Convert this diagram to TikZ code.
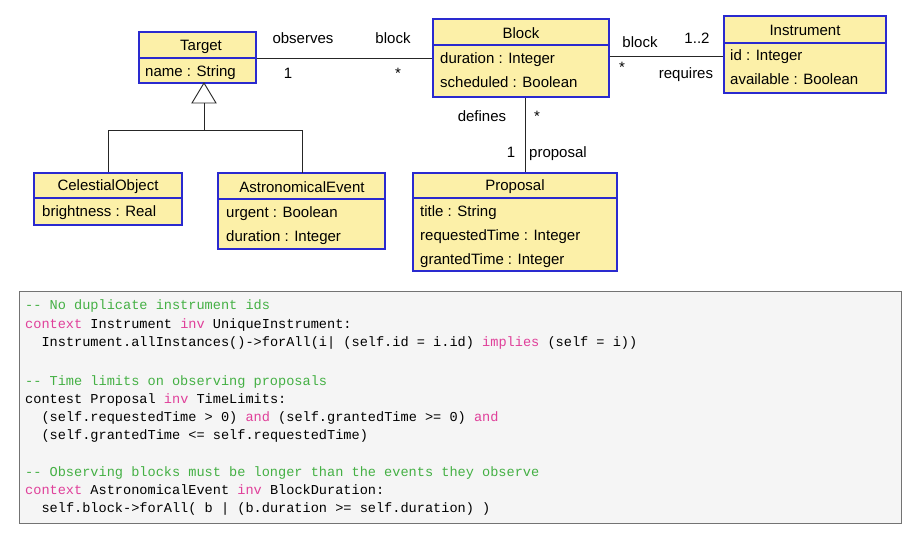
\documentclass[tikz,border=0pt]{standalone}
\usepackage{fontspec}
\setmainfont{Liberation Sans}
\newfontfamily\codefont{Liberation Mono}
\begin{document}
\begin{tikzpicture}[x=1pt,y=-1pt,
  cls/.style={draw=umlblue,fill=umlfill,line width=1.2pt,inner sep=0pt},
  t/.style={font=\fontsize{15}{17}\selectfont,inner sep=0pt},
  attr/.style={t,anchor=base west},
  lab/.style={t,anchor=base},
  ln/.style={line width=0.9pt,draw=black!85},
  code/.style={font=\codefont\fontsize{13.6}{15}\selectfont,anchor=base west,inner sep=0pt},
  cmtxt/.style={text=cmt}]
\definecolor{umlblue}{HTML}{2A2ACF}
\definecolor{umlfill}{HTML}{FCF0A8}
\definecolor{cmt}{HTML}{44B044}
\definecolor{kwc}{HTML}{E0409A}
\useasboundingbox (0,0) rectangle (922,540);
% classes
\node[cls,minimum width=117pt,minimum height=51pt] (target) at (197.5,57.5) {};
\draw[umlblue,line width=1.2pt] (139,58) -- (256,58);
\node[lab] at (201,51) {Target};
\node[attr] at (145,77) {name : String};

\node[cls,minimum width=176pt,minimum height=78pt] (block) at (521,58) {};
\draw[umlblue,line width=1.2pt] (433,45) -- (609,45);
\node[lab] at (521,39) {Block};
\node[attr] at (440,64) {duration : Integer};
\node[attr] at (440,88) {scheduled : Boolean};

\node[cls,minimum width=162pt,minimum height=77pt] (instr) at (805,54.5) {};
\draw[umlblue,line width=1.2pt] (724,43) -- (886,43);
\node[lab] at (805,36) {Instrument};
\node[attr] at (730,61) {id : Integer};
\node[attr] at (730,85) {available : Boolean};

\node[cls,minimum width=148pt,minimum height=52pt] (celest) at (108,199) {};
\draw[umlblue,line width=1.2pt] (34,198) -- (182,198);
\node[lab] at (108,191) {CelestialObject};
\node[attr] at (42,217) {brightness : Real};

\node[cls,minimum width=167pt,minimum height=76pt] (astro) at (301.5,211) {};
\draw[umlblue,line width=1.2pt] (218,199) -- (385,199);
\node[lab] at (302,193) {AstronomicalEvent};
\node[attr] at (226,218) {urgent : Boolean};
\node[attr] at (226,242) {duration : Integer};

\node[cls,minimum width=204pt,minimum height=98pt] (prop) at (515,222) {};
\draw[umlblue,line width=1.2pt] (413,198) -- (617,198);
\node[lab] at (515,191) {Proposal};
\node[attr] at (420,217) {title : String};
\node[attr] at (420,241) {requestedTime : Integer};
\node[attr] at (420,265) {grantedTime : Integer};

% associations
\draw[ln] (target.east |- 0,58) -- (block.west |- 0,58);
\draw[ln] (block.east |- 0,56) -- (instr.west |- 0,56);
\draw[ln] (block.south -| 525,0) -- (prop.north -| 525,0);
\node[lab] at (303,44) {observes};
\node[lab] at (393,44) {block};
\node[lab] at (288,79) {1};
\node[lab] at (398,79) {*};
\node[lab] at (640,48) {block};
\node[lab] at (697,44) {1..2};
\node[lab] at (622,73) {*};
\node[lab] at (686,79) {requires};
\node[lab] at (482,122) {defines};
\node[lab] at (537,122) {*};
\node[lab] at (511,158) {1};
\node[attr] at (529,158) {proposal};
% generalization
\coordinate (apex) at (204,83);
\coordinate (junc) at (204,130);
\draw[ln,fill=white] (apex) -- (192,103) -- (216,103) -- cycle;
\draw[ln] (204,103) -- (junc);
\draw[ln] (celest.north) -- (108,130) -- (302,130) -- (302,173);
% code
\node[draw=black!55,fill=black!4,line width=1pt,minimum width=882pt,minimum height=231pt,inner sep=0pt] (codebox) at (460,407.5) {};
\node[code,cmtxt] at (25,310) {-- No duplicate instrument ids};
\node[code] at (25,329) {\textcolor{kwc}{context} Instrument \textcolor{kwc}{inv} UniqueInstrument:};
\node[code] at (25,347) {\ \ Instrument.allInstances()->forAll(i| (self.id = i.id) \textcolor{kwc}{implies} (self = i))};
\node[code,cmtxt] at (25,385) {-- Time limits on observing proposals};
\node[code] at (25,403) {contest Proposal \textcolor{kwc}{inv} TimeLimits:};
\node[code] at (25,421) {\ \ (self.requestedTime > 0) \textcolor{kwc}{and} (self.grantedTime >= 0) \textcolor{kwc}{and}};
\node[code] at (25,439) {\ \ (self.grantedTime <= self.requestedTime)};
\node[code,cmtxt] at (25,476) {-- Observing blocks must be longer than the events they observe};
\node[code] at (25,494) {\textcolor{kwc}{context} AstronomicalEvent \textcolor{kwc}{inv} BlockDuration:};
\node[code] at (25,512) {\ \ self.block->forAll( b | (b.duration >= self.duration) )};
\end{tikzpicture}
\end{document}
